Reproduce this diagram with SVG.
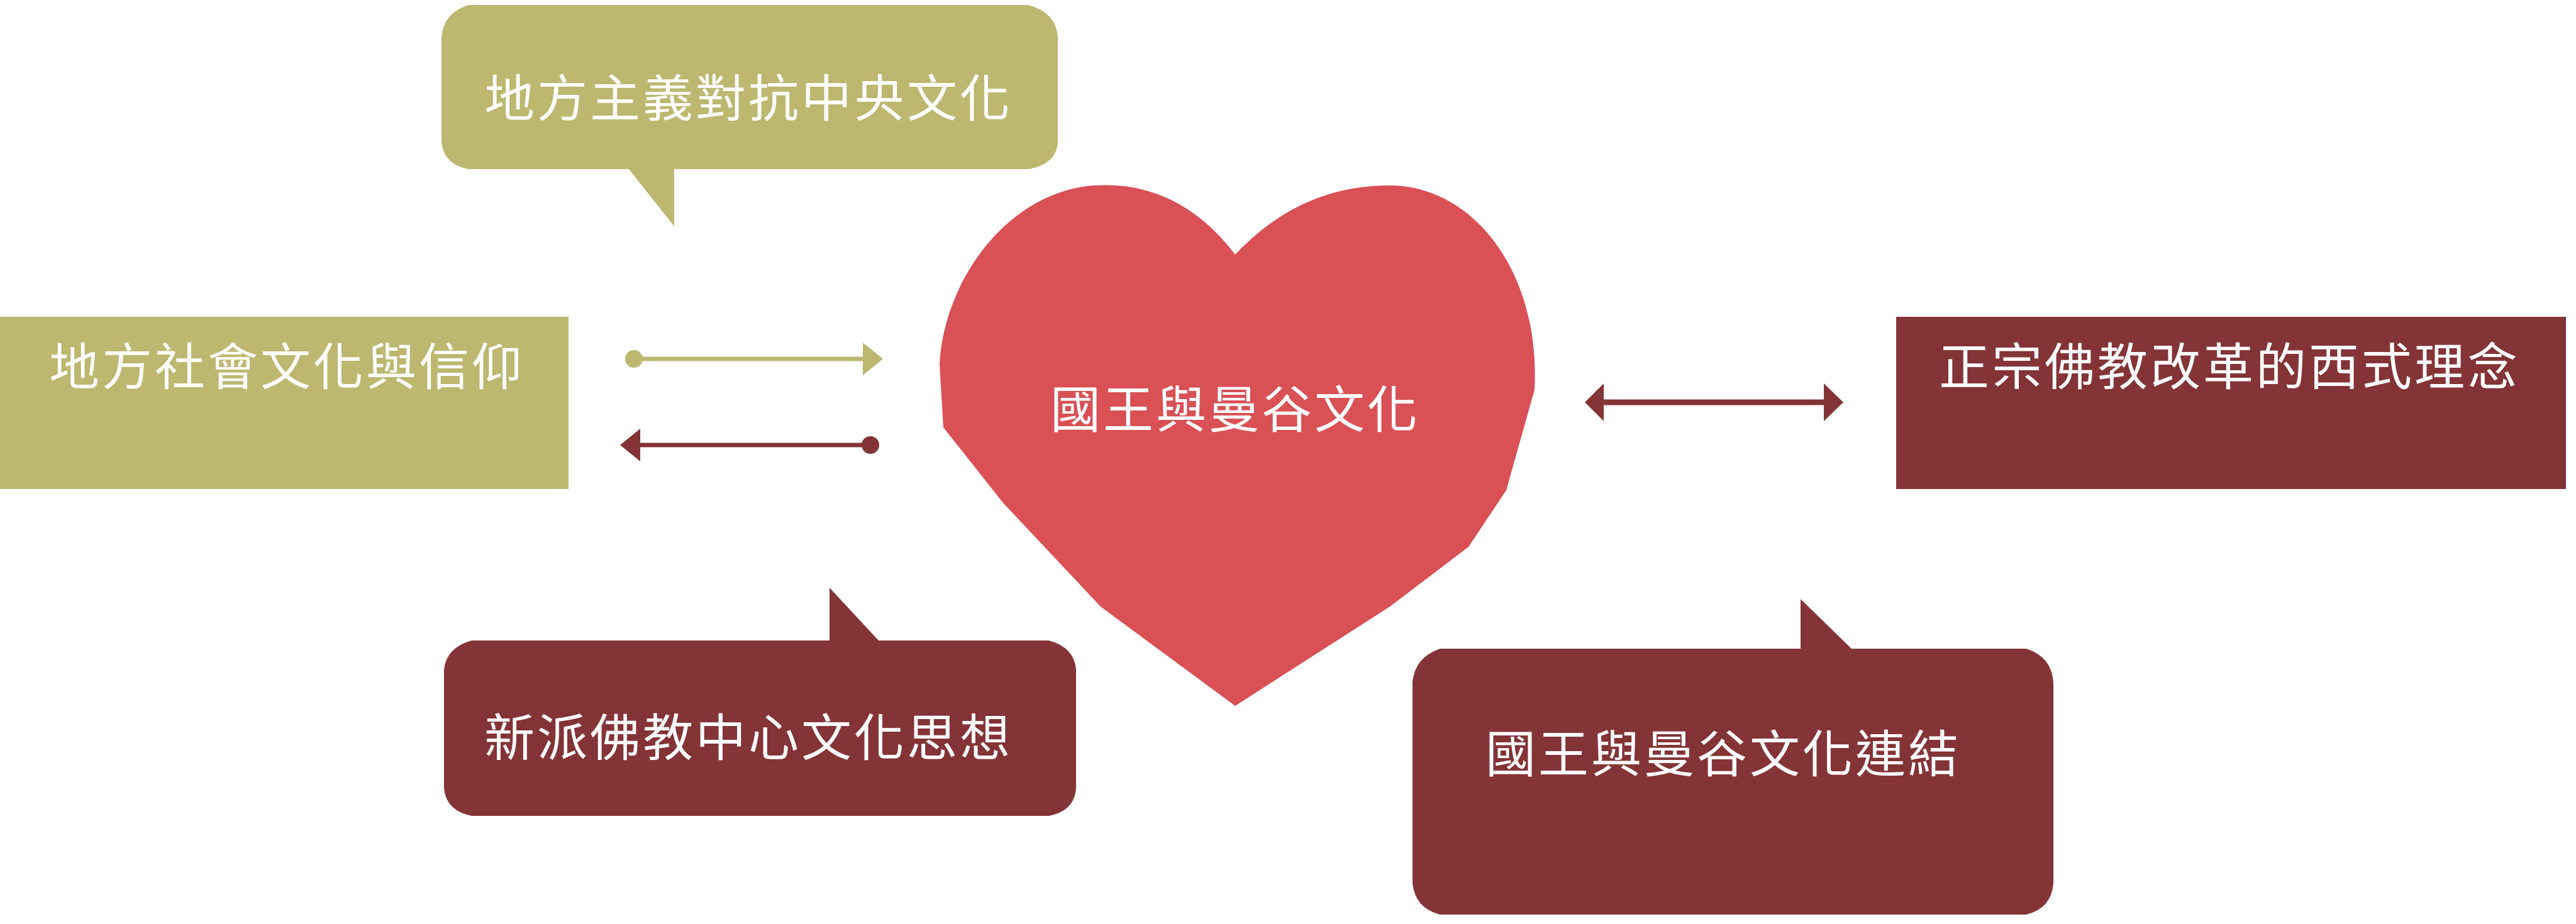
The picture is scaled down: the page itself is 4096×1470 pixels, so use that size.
<svg xmlns="http://www.w3.org/2000/svg" width="4096" height="1470" viewBox="0 0 4096 1470">
<defs>
<style>
.olive{fill:#BDB76F}.maroon{fill:#843436}.heart{fill:#D95055}
text{font-family:"Noto Sans CJK TC","Noto Sans CJK SC",sans-serif;fill:#fff;font-size:80px;letter-spacing:4px}
</style>
<marker id="ao" viewBox="0 0 10 10" refX="8" refY="5" markerWidth="6" markerHeight="6" markerUnits="userSpaceOnUse" orient="auto-start-reverse"><path d="M0,0 L10,5 L0,10 Z" fill="#BDB76F"/></marker>
</defs>
<g id="top-bubble"><path class="olive" d="M745,8 H1635 Q1680,20 1682,60 V225 Q1680,262 1635,269 H1072 V360 L1000,269 H745 Q705,262 702,225 V60 Q705,20 745,8 Z"/><text x="1190" y="185" text-anchor="middle">地方主義對抗中央文化</text></g>
<g id="left-box"><rect class="olive" x="0" y="504" width="904" height="274"/><text x="78" y="612">地方社會文化與信仰</text></g>
<g id="heart"><path class="heart" d="M1964,405 C1900,320 1820,290 1740,295 C1600,305 1500,450 1494,580 L1500,680 L1595,800 L1750,965 L1964,1123 L2210,965 L2335,870 L2395,780 L2440,620 C2450,430 2340,295 2210,295 C2110,295 2030,335 1964,405 Z"/><text x="1964" y="680" text-anchor="middle">國王與曼谷文化</text></g>
<g id="right-box"><rect class="maroon" x="3015" y="504" width="1065" height="274"/><text x="3545" y="612" text-anchor="middle">正宗佛教改革的西式理念</text></g>
<g id="bottom-left-bubble"><path class="maroon" d="M750,1019 H1319 V935 L1397,1019 H1668 Q1708,1030 1711,1065 V1255 Q1708,1290 1668,1298 H750 Q710,1290 706,1255 V1065 Q710,1030 750,1019 Z"/><text x="1190" y="1202" text-anchor="middle">新派佛教中心文化思想</text></g>
<g id="bottom-right-bubble"><path class="maroon" d="M2290,1032 H2863 V953 L2944,1032 H3222 Q3262,1045 3265,1085 V1405 Q3262,1445 3222,1455 H2290 Q2250,1445 2246,1405 V1085 Q2250,1045 2290,1032 Z"/><text x="2740" y="1228" text-anchor="middle">國王與曼谷文化連結</text></g>
<g id="connectors">
<line x1="1008" y1="571" x2="1385" y2="571" stroke="#BDB76F" stroke-width="7"/><circle cx="1008" cy="571" r="14" fill="#BDB76F"/><path d="M1372,545 L1404,571 L1372,597 Z" fill="#BDB76F"/>
<line x1="1384" y1="708" x2="1005" y2="708" stroke="#843436" stroke-width="7"/><circle cx="1384" cy="708" r="14" fill="#843436"/><path d="M1018,682 L986,708 L1018,734 Z" fill="#843436"/>
<line x1="2535" y1="640" x2="2915" y2="640" stroke="#843436" stroke-width="9"/><path d="M2550,610 L2520,640 L2550,670 Z" fill="#843436"/><path d="M2900,610 L2931,640 L2900,670 Z" fill="#843436"/>
</g>
</svg>
